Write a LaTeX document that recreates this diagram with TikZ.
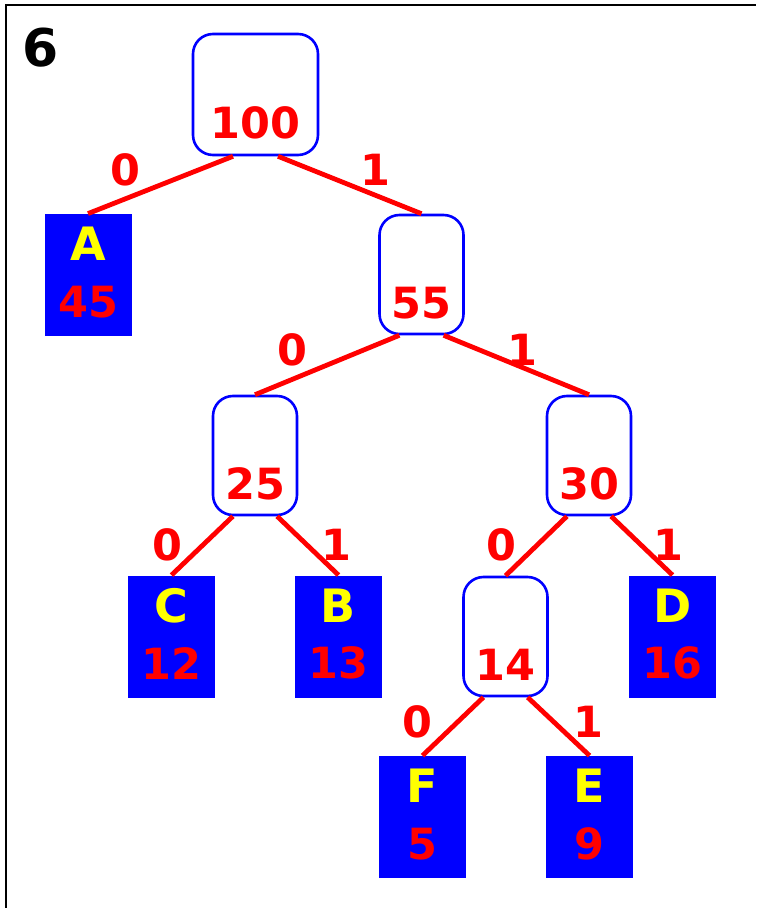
\documentclass[tikz,border=0pt]{standalone}
\usepackage{fontspec}
\setsansfont{DejaVu Sans}
\usepackage{xcolor}
\definecolor{tree-blue}{HTML}{0000FF}
\definecolor{tree-red}{HTML}{FF0000}
\definecolor{tree-yellow}{HTML}{FFFF00}
\usetikzlibrary{positioning}

\begin{document}
\begin{tikzpicture}[x=0.5pt, y=-0.5pt,
          every node/.style={font=\sffamily\bfseries\fontsize{21.5}{21.5}\selectfont,
                             inner sep=0pt},
          inner/.style={draw=tree-blue, line width=1.3pt, rounded corners=10pt,
                        minimum width=42pt, minimum height=59.5pt},
          leaf/.style={fill=tree-blue, minimum width=43.5pt, minimum height=61pt},
          weight/.style={text=tree-red},
          letter/.style={text=tree-yellow, font=\sffamily\bfseries\fontsize{23}{23}\selectfont},
          branch/.style={draw=tree-red, line width=2.4pt},
          bit/.style={text=tree-red}]
        % Huffman tree, step 6: internal nodes are outlined boxes holding the
        % summed weight, leaves are filled boxes with symbol and weight.
        % Coordinates: pixel grid, (0,0) top left, y grows downwards.
        \useasboundingbox (0,0) rectangle (756,908);
        \draw[line width=1.4pt] (6,908) -- (6,5) -- (756,5);
        \node[font=\sffamily\bfseries\fontsize{26}{26}\selectfont] (step) at (41,48) {6};

        % root
        \node[inner, minimum width=62.5pt, minimum height=60.5pt] (root) at (255.5,94.5) {};
        \node[weight, above=8.5pt of root.south] (w-root) {100};

        % inner nodes
        \foreach \name/\x/\y/\w in {n55/421.5/274.5/55, n25/255/455.5/25,
            n30/589/455.5/30, n14/505.5/636.5/14} {
          \node[inner] (\name) at (\x,\y) {};
          \node[weight, above=8pt of \name.south] (w-\name) {\w};
        }

        % leaves
        \foreach \sym/\x/\y/\w in {A/88/275/45, C/171.5/636.5/12, B/338.5/636.5/13,
            D/672.5/636.5/16, F/422.5/817/5, E/589.5/817/9} {
          \node[leaf] (leaf\sym) at (\x,\y) {};
          \node[letter, below=6.5pt of leaf\sym.north] (s-\sym) {\sym};
          \node[weight, above=9pt of leaf\sym.south] (w-\sym) {\w};
        }

        % branches, left child from the 250 anchor, right child from 290
        \foreach \from/\to/\side in {root/leafA/250, root/n55/290,
            n55/n25/250, n55/n30/290, n25/leafC/250, n25/leafB/290,
            n30/n14/250, n30/leafD/290, n14/leafF/250, n14/leafE/290} {
          \draw[branch] (\from.\side) -- (\to.north);
        }

        % branch bits
        \foreach \b/\x/\y [count=\k] in {0/125/170, 1/375/170, 0/292/350,
            1/522/350, 0/167/545, 1/336/545, 0/501/545, 1/668/545,
            0/417/722, 1/588/722} {
          \node[bit] (bit\k) at (\x,\y) {\b};
        }
      \end{tikzpicture}
\end{document}
